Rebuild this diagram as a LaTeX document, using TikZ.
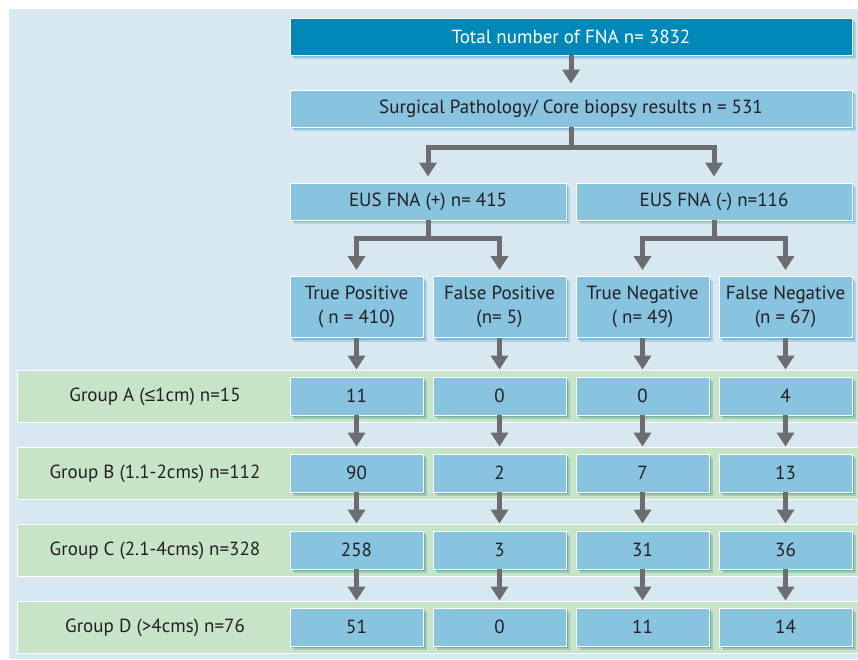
\documentclass[tikz,border=0pt]{standalone}
\usepackage{fontspec}
\setmainfont{PT Sans}
\newfontfamily\symfont{Liberation Sans}
\usetikzlibrary{arrows.meta,shadows}
\definecolor{bgc}{HTML}{D8E8F1}
\definecolor{dblue}{HTML}{0088B8}
\definecolor{lblue}{HTML}{88C3DF}
\definecolor{grn}{HTML}{C7E4C8}
\definecolor{arrg}{HTML}{6C6D70}
\definecolor{txt}{HTML}{231F20}
\definecolor{shblue}{HTML}{5FA9D2}
\definecolor{shteal}{HTML}{4F9E9A}
\begin{document}
\begin{tikzpicture}[x=1pt,y=-1pt,
  boxbase/.style={draw=white, line width=0.9pt, inner sep=0pt, align=center,
    font=\fontsize{19}{24}\selectfont, text=txt},
  topbox/.style={boxbase, fill=lblue, minimum height=37pt,
    general shadow={shadow xshift=4pt, shadow yshift=-4pt, fill=shblue, fill opacity=0.35},
    general shadow={shadow xshift=2pt, shadow yshift=-2pt, fill=shblue, fill opacity=0.6}},
  colbox/.style={topbox, minimum width=133pt, minimum height=61pt},
  cellbox/.style={boxbase, fill=lblue, minimum width=133pt, minimum height=38pt,
    general shadow={shadow xshift=4pt, shadow yshift=-4pt, fill=shteal, fill opacity=0.35},
    general shadow={shadow xshift=2pt, shadow yshift=-2pt, fill=shteal, fill opacity=0.6}},
  grnrow/.style={draw=white, line width=0.9pt, fill=grn, minimum width=841pt, minimum height=52pt, inner sep=0pt},
  glabel/.style={font=\fontsize{19}{23}\selectfont, text=txt, inner sep=0pt},
  arr/.style={draw=arrg, line width=5pt, -{Triangle[width=17pt,length=14pt]}, shorten >=6pt},
  arrc/.style={arr, shorten >=7pt}
]
\useasboundingbox (0,0) rectangle (858,659);
\fill[white] (0,0) rectangle (858,659);
\fill[bgc] (9,9) rectangle (858,659);

% green rows
\node[grnrow] (ra) at (437.5,396) {};
\node[grnrow] (rb) at (437.5,473) {};
\node[grnrow] (rc) at (437.5,550) {};
\node[grnrow] (rd) at (437.5,627) {};
\node[glabel] (la) at (155,397) {Group A ({\symfont ≤}1cm) n=15};
\node[glabel] (lb) at (155,474) {Group B (1.1-2cms) n=112};
\node[glabel] (lc) at (155,551) {Group C (2.1-4cms) n=328};
\node[glabel] (ld) at (155,628) {Group D (>4cms) n=76};

% top boxes
\node[topbox, fill=dblue, text=white, minimum width=562pt] (total) at (571,36.5) {Total number of FNA n= 3832};
\node[topbox, minimum width=562pt] (surg) at (571,108.5) {Surgical Pathology/ Core biopsy results n = 531};
\node[topbox, minimum width=276pt] (eusp) at (428,201.5) {EUS FNA (+) n= 415};
\node[topbox, minimum width=276pt] (eusn) at (714,201.5) {EUS FNA (-) n=116};

% column boxes
\node[colbox] (tp) at (356.5,307) {True Positive\\( n = 410)};
\node[colbox] (fp) at (499.5,307) {False Positive\\(n= 5)};
\node[colbox] (tn) at (642.5,307) {True Negative\\( n= 49)};
\node[colbox] (fn) at (785.5,307) {False Negative\\(n = 67)};

% cells
\node[cellbox] (a1) at (356.5,396) {11};
\node[cellbox] (a2) at (499.5,396) {0};
\node[cellbox] (a3) at (642.5,396) {0};
\node[cellbox] (a4) at (785.5,396) {4};
\node[cellbox] (b1) at (356.5,473) {90};
\node[cellbox] (b2) at (499.5,473) {2};
\node[cellbox] (b3) at (642.5,473) {7};
\node[cellbox] (b4) at (785.5,473) {13};
\node[cellbox] (c1) at (356.5,550) {258};
\node[cellbox] (c2) at (499.5,550) {3};
\node[cellbox] (c3) at (642.5,550) {31};
\node[cellbox] (c4) at (785.5,550) {36};
\node[cellbox] (d1) at (356.5,627) {51};
\node[cellbox] (d2) at (499.5,627) {0};
\node[cellbox] (d3) at (642.5,627) {11};
\node[cellbox] (d4) at (785.5,627) {14};

% arrows
\draw[arr] (total.south) -- (surg.north);
\draw[arr] (surg.south) -- ++(0,20) -| (eusp.north);
\draw[arr] (surg.south) -- ++(0,20) -| (eusn.north);
\draw[arr] (eusp.south) -- ++(0,18) -| (tp.north);
\draw[arr] (eusp.south) -- ++(0,18) -| (fp.north);
\draw[arr] (eusn.south) -- ++(0,18) -| (tn.north);
\draw[arr] (eusn.south) -- ++(0,18) -| (fn.north);
\foreach \c [count=\i] in {tp,fp,tn,fn}{
  \draw[arrc] (\c.south) -- (a\i.north);
  \draw[arrc] (a\i.south) -- (b\i.north);
  \draw[arrc] (b\i.south) -- (c\i.north);
  \draw[arrc] (c\i.south) -- (d\i.north);
}
\end{tikzpicture}
\end{document}
